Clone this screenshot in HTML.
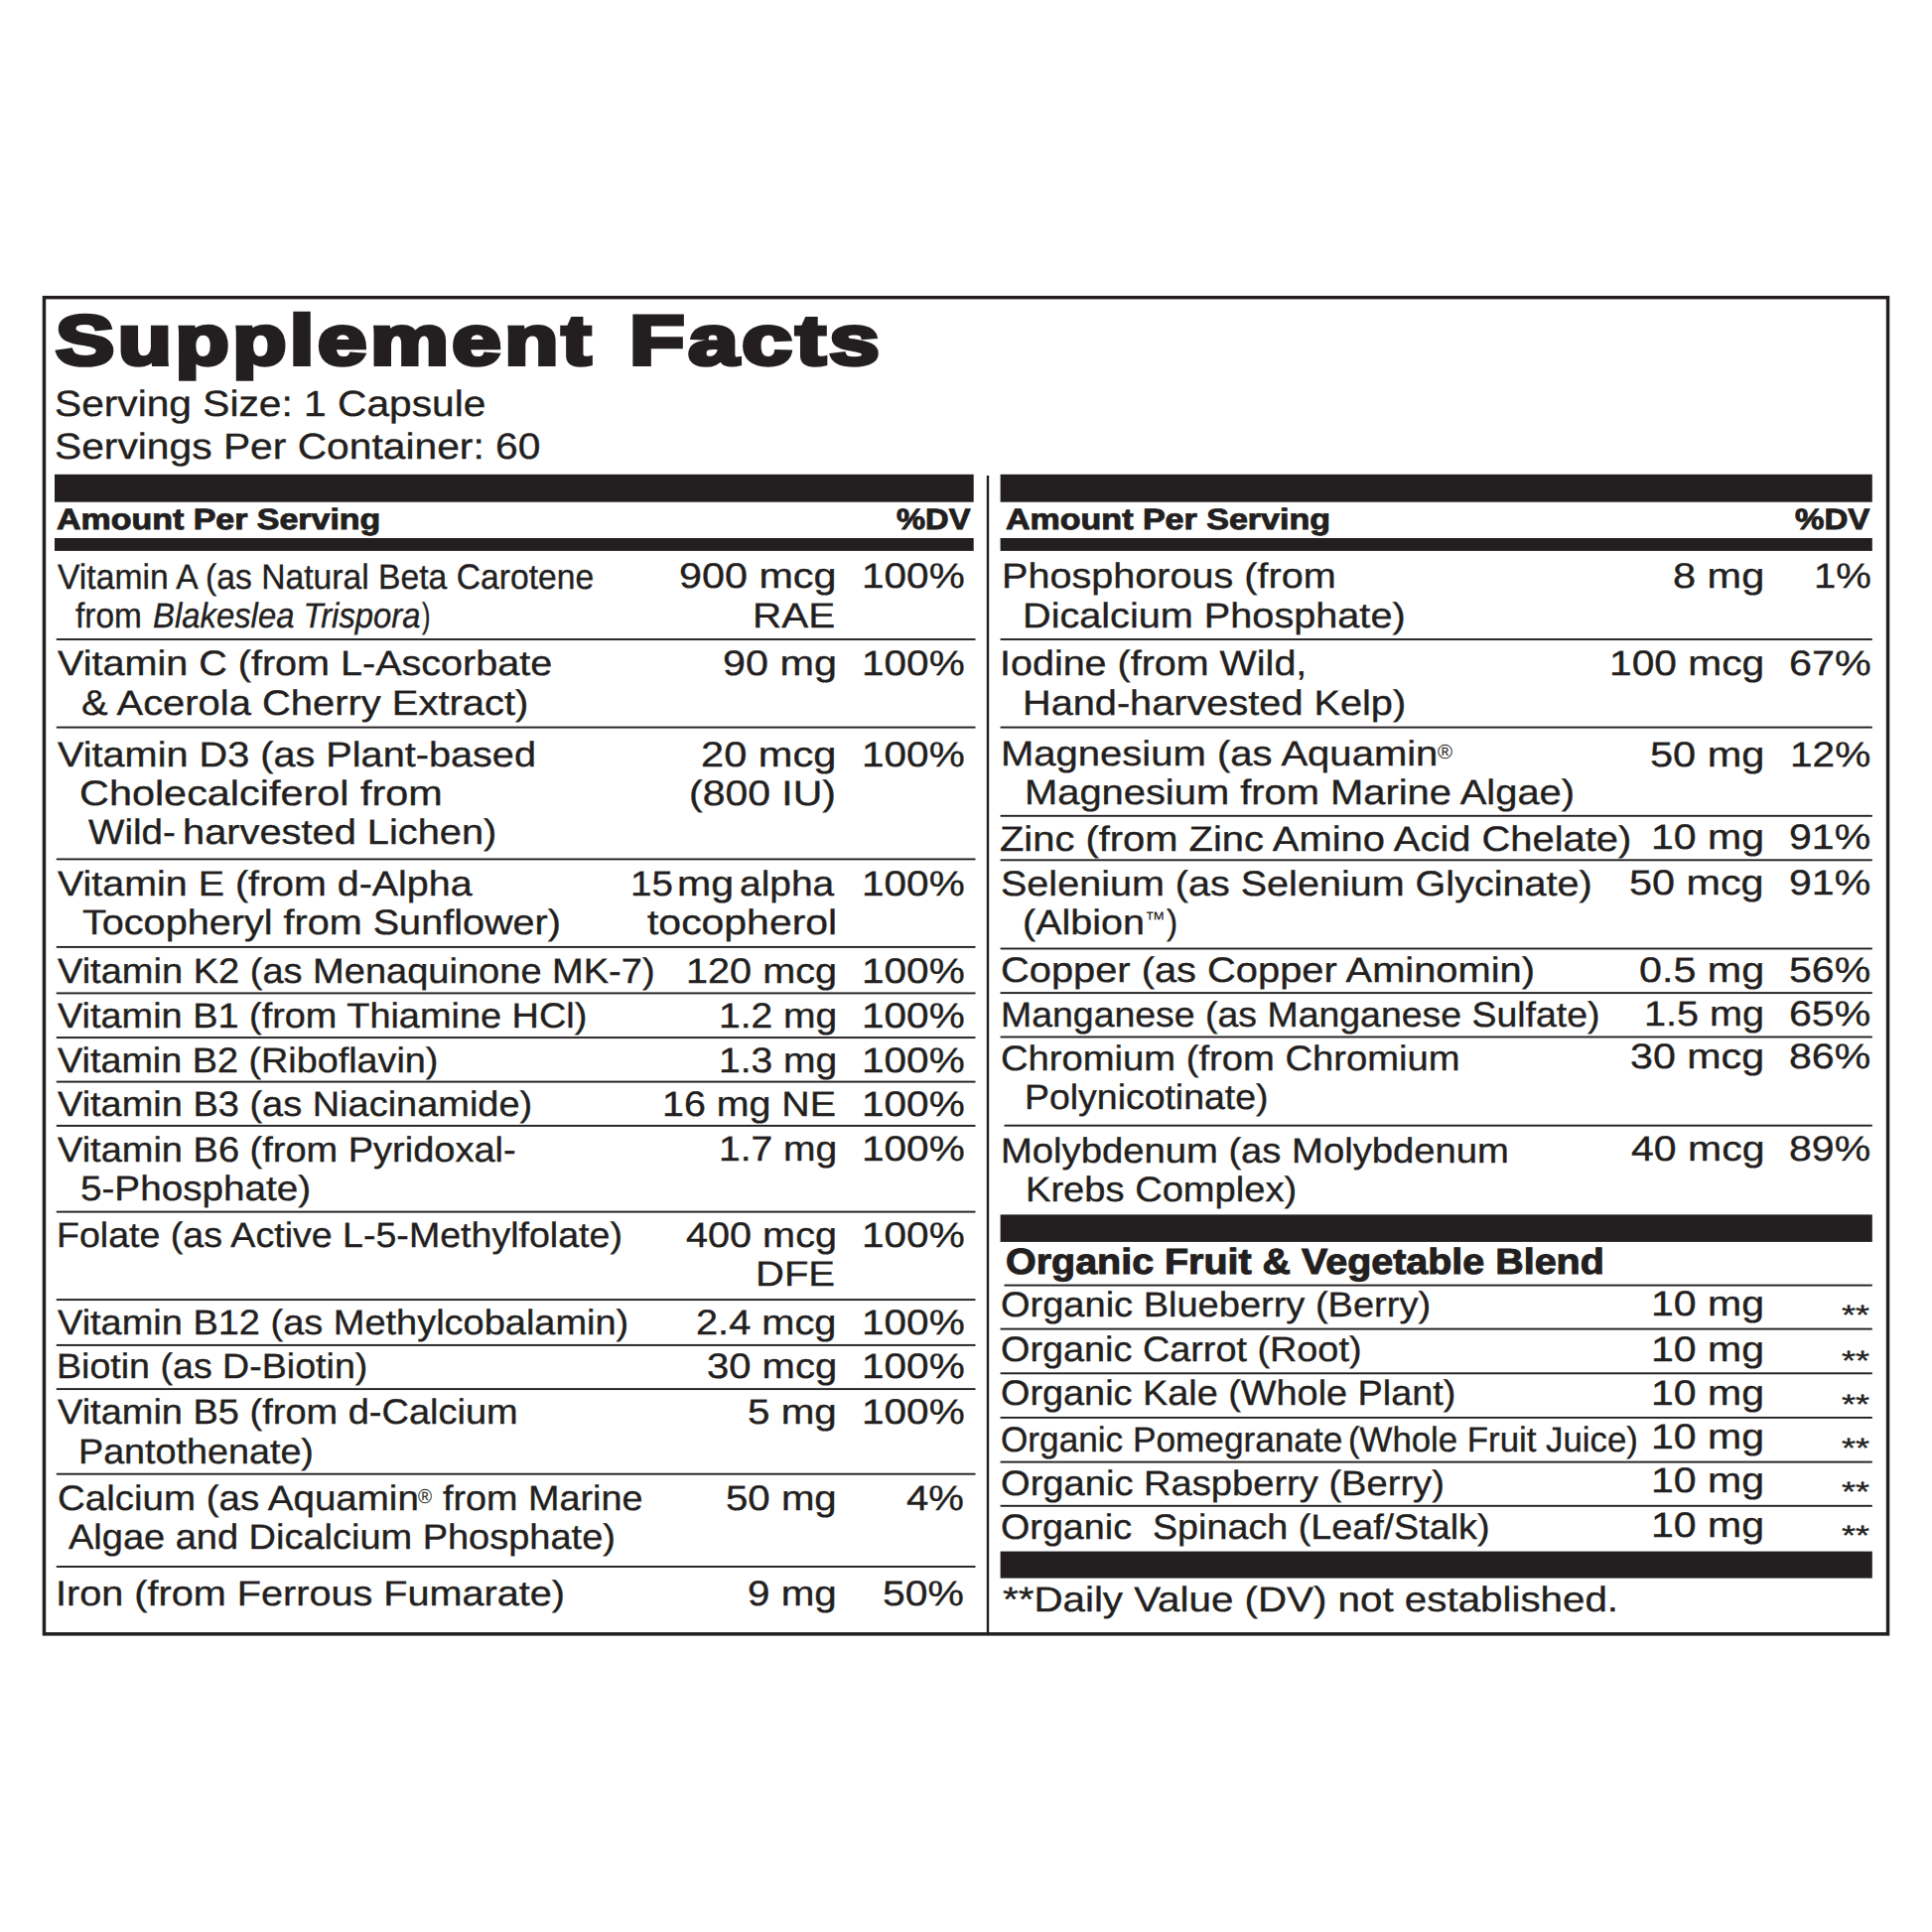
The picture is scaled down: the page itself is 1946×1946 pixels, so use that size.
<!DOCTYPE html>
<html lang="en"><head><meta charset="utf-8"><title>Supplement Facts</title>
<style>
html,body{margin:0;padding:0;background:#fff;}
body{width:1946px;height:1946px;position:relative;overflow:hidden;font-family:"Liberation Sans",sans-serif;color:#231f20;}
.t{position:absolute;white-space:pre;line-height:1;display:block;text-rendering:geometricPrecision;-webkit-text-stroke:0.35px #231f20;}
.g{position:absolute;left:0;top:0;display:block;}
</style></head><body>
<svg class="g" width="1946" height="1946" viewBox="0 0 1946 1946" fill="#231f20">
<rect x="44.45" y="299.65" width="1857.10" height="1346.20" fill="none" stroke="#231f20" stroke-width="3.5"/>
<rect x="55.00" y="477.80" width="925.70" height="27.90"/>
<rect x="55.00" y="542.00" width="925.70" height="12.90"/>
<rect x="1007.60" y="477.80" width="878.20" height="27.90"/>
<rect x="1007.60" y="542.00" width="878.20" height="12.90"/>
<rect x="1007.60" y="1223.40" width="878.20" height="27.50"/>
<rect x="1007.60" y="1562.60" width="878.20" height="27.00"/>
<rect x="993.80" y="479.00" width="2.40" height="1166.00"/>
<rect x="56.80" y="643.05" width="925.70" height="1.90"/>
<rect x="56.80" y="731.65" width="925.70" height="1.90"/>
<rect x="56.80" y="864.45" width="925.70" height="1.90"/>
<rect x="56.80" y="952.95" width="925.70" height="1.90"/>
<rect x="56.80" y="999.45" width="925.70" height="1.90"/>
<rect x="56.80" y="1044.15" width="925.70" height="1.90"/>
<rect x="56.80" y="1088.65" width="925.70" height="1.90"/>
<rect x="56.80" y="1132.95" width="925.70" height="1.90"/>
<rect x="56.80" y="1219.65" width="925.70" height="1.90"/>
<rect x="56.80" y="1308.15" width="925.70" height="1.90"/>
<rect x="56.80" y="1353.95" width="925.70" height="1.90"/>
<rect x="56.80" y="1398.15" width="925.70" height="1.90"/>
<rect x="56.80" y="1483.75" width="925.70" height="1.90"/>
<rect x="56.80" y="1577.05" width="925.70" height="1.90"/>
<rect x="1007.60" y="643.05" width="878.20" height="1.90"/>
<rect x="1007.60" y="731.65" width="878.20" height="1.90"/>
<rect x="1007.60" y="820.85" width="878.20" height="1.90"/>
<rect x="1007.60" y="865.35" width="878.20" height="1.90"/>
<rect x="1007.60" y="954.55" width="878.20" height="1.90"/>
<rect x="1007.60" y="999.15" width="878.20" height="1.90"/>
<rect x="1007.60" y="1043.55" width="878.20" height="1.90"/>
<rect x="1007.60" y="1337.65" width="878.20" height="1.90"/>
<rect x="1007.60" y="1382.35" width="878.20" height="1.90"/>
<rect x="1007.60" y="1426.95" width="878.20" height="1.90"/>
<rect x="1007.60" y="1471.65" width="878.20" height="1.90"/>
<rect x="1007.60" y="1515.85" width="878.20" height="1.90"/>
<rect x="1011.50" y="1132.75" width="874.30" height="1.90"/>
<rect x="1011.50" y="1293.65" width="874.30" height="1.90"/>
</svg>
<span class="t" style="left:56.48px;transform-origin:0 0;top:308.00px;font-size:70.5px;transform:scaleX(1.2584);font-weight:700;-webkit-text-stroke:4.2px #231f20;letter-spacing:2.8px;">Supplement</span>
<span class="t" style="left:633.64px;transform-origin:0 0;top:308.00px;font-size:70.5px;transform:scaleX(1.2894);font-weight:700;-webkit-text-stroke:4.2px #231f20;letter-spacing:2.8px;">Facts</span>
<span class="t" style="left:55.18px;transform-origin:0 0;top:389.00px;font-size:36.5px;transform:scaleX(1.1150);">Serving Size: 1 Capsule</span>
<span class="t" style="left:55.18px;transform-origin:0 0;top:432.00px;font-size:36.5px;transform:scaleX(1.1167);">Servings Per Container: 60</span>
<span class="t" style="left:56.90px;transform-origin:0 0;top:509.00px;font-size:29.5px;transform:scaleX(1.1506);font-weight:700;-webkit-text-stroke:0.9px #231f20;">Amount Per Serving</span>
<span class="t" style="left:903.40px;transform-origin:0 0;top:509.00px;font-size:29.5px;transform:scaleX(1.1075);font-weight:700;-webkit-text-stroke:0.9px #231f20;">%DV</span>
<span class="t" style="left:1013.20px;transform-origin:0 0;top:509.00px;font-size:29.5px;transform:scaleX(1.1530);font-weight:700;-webkit-text-stroke:0.9px #231f20;">Amount Per Serving</span>
<span class="t" style="left:1808.40px;transform-origin:0 0;top:509.00px;font-size:29.5px;transform:scaleX(1.1208);font-weight:700;-webkit-text-stroke:0.9px #231f20;">%DV</span>
<span class="t" style="left:58.10px;transform-origin:0 0;top:564.00px;font-size:35.4px;transform:scaleX(0.9512);">Vitamin A (as Natural Beta Carotene</span>
<span class="t" style="left:75.50px;transform-origin:0 0;top:603.00px;font-size:35.4px;transform:scaleX(0.9449);">from</span>
<span class="t" style="left:153.77px;transform-origin:0 0;top:603.00px;font-size:35.4px;transform:scaleX(0.9281);font-style:italic;">Blakeslea Trispora</span>
<span class="t" style="left:424.80px;transform-origin:0 0;top:603.00px;font-size:35.4px;transform:scaleX(0.7192);">)</span>
<span class="t" style="left:58.00px;transform-origin:0 0;top:651.00px;font-size:35.4px;transform:scaleX(1.1177);">Vitamin C (from L-Ascorbate</span>
<span class="t" style="left:81.57px;transform-origin:0 0;top:691.00px;font-size:35.4px;transform:scaleX(1.1279);">&amp; Acerola Cherry Extract)</span>
<span class="t" style="left:58.00px;transform-origin:0 0;top:743.00px;font-size:35.4px;transform:scaleX(1.1205);">Vitamin D3 (as Plant-based</span>
<span class="t" style="left:79.73px;transform-origin:0 0;top:782.00px;font-size:35.4px;transform:scaleX(1.1694);">Cholecalciferol from</span>
<span class="t" style="left:88.80px;transform-origin:0 0;top:821.00px;font-size:35.4px;transform:scaleX(1.0899);">Wild-</span>
<span class="t" style="left:183.75px;transform-origin:0 0;top:821.00px;font-size:35.4px;transform:scaleX(1.1245);">harvested Lichen)</span>
<span class="t" style="left:58.00px;transform-origin:0 0;top:873.00px;font-size:35.4px;transform:scaleX(1.1136);">Vitamin E (from d-Alpha</span>
<span class="t" style="left:82.70px;transform-origin:0 0;top:912.00px;font-size:35.4px;transform:scaleX(1.1189);">Tocopheryl from Sunflower)</span>
<span class="t" style="left:58.00px;transform-origin:0 0;top:961.00px;font-size:35.4px;transform:scaleX(1.0743);">Vitamin K2 (as Menaquinone MK-7)</span>
<span class="t" style="left:58.00px;transform-origin:0 0;top:1006.00px;font-size:35.4px;transform:scaleX(1.0704);">Vitamin B1 (from Thiamine HCl)</span>
<span class="t" style="left:57.80px;transform-origin:0 0;top:1051.00px;font-size:35.4px;transform:scaleX(1.0671);">Vitamin B2 (Riboflavin)</span>
<span class="t" style="left:58.00px;transform-origin:0 0;top:1095.00px;font-size:35.4px;transform:scaleX(1.0726);">Vitamin B3 (as Niacinamide)</span>
<span class="t" style="left:58.00px;transform-origin:0 0;top:1141.00px;font-size:35.4px;transform:scaleX(1.0734);">Vitamin B6 (from Pyridoxal-</span>
<span class="t" style="left:81.11px;transform-origin:0 0;top:1180.00px;font-size:35.4px;transform:scaleX(1.0920);">5-Phosphate)</span>
<span class="t" style="left:57.28px;transform-origin:0 0;top:1227.00px;font-size:35.4px;transform:scaleX(1.0613);">Folate (as Active L-5-Methylfolate)</span>
<span class="t" style="left:58.00px;transform-origin:0 0;top:1315.00px;font-size:35.4px;transform:scaleX(1.0725);">Vitamin B12 (as Methylcobalamin)</span>
<span class="t" style="left:57.28px;transform-origin:0 0;top:1359.00px;font-size:35.4px;transform:scaleX(1.0620);">Biotin (as D-Biotin)</span>
<span class="t" style="left:58.00px;transform-origin:0 0;top:1405.00px;font-size:35.4px;transform:scaleX(1.0733);">Vitamin B5 (from d-Calcium</span>
<span class="t" style="left:79.27px;transform-origin:0 0;top:1445.00px;font-size:35.4px;transform:scaleX(1.0655);">Pantothenate)</span>
<span class="t" style="left:57.61px;transform-origin:0 0;top:1492.00px;font-size:35.4px;transform:scaleX(1.0880);">Calcium (as Aquamin</span>
<span class="t" style="left:421.10px;transform-origin:0 0;top:1498.00px;font-size:20.5px;transform:scaleX(0.9330);-webkit-text-stroke:0px #231f20;">®</span>
<span class="t" style="left:446.00px;transform-origin:0 0;top:1492.00px;font-size:35.4px;transform:scaleX(1.0674);">from Marine</span>
<span class="t" style="left:69.00px;transform-origin:0 0;top:1531.00px;font-size:35.4px;transform:scaleX(1.0729);">Algae and Dicalcium Phosphate)</span>
<span class="t" style="left:56.34px;transform-origin:0 0;top:1588.00px;font-size:35.4px;transform:scaleX(1.1197);">Iron (from Ferrous Fumarate)</span>
<span class="t" style="left:684.43px;transform-origin:0 0;top:563.00px;font-size:35.4px;transform:scaleX(1.1671);">900 mcg</span>
<span class="t" style="left:757.91px;transform-origin:0 0;top:603.00px;font-size:35.4px;transform:scaleX(1.1428);">RAE</span>
<span class="t" style="left:727.93px;transform-origin:0 0;top:651.00px;font-size:35.4px;transform:scaleX(1.1683);">90 mg</span>
<span class="t" style="left:706.42px;transform-origin:0 0;top:743.00px;font-size:35.4px;transform:scaleX(1.1757);">20 mcg</span>
<span class="t" style="left:694.48px;transform-origin:0 0;top:782.00px;font-size:35.4px;transform:scaleX(1.1575);">(800 IU)</span>
<span class="t" style="left:634.82px;transform-origin:0 0;top:873.00px;font-size:35.4px;transform:scaleX(1.0901);">15</span>
<span class="t" style="left:681.68px;transform-origin:0 0;top:873.00px;font-size:35.4px;transform:scaleX(1.1607);">mg</span>
<span class="t" style="left:745.40px;transform-origin:0 0;top:873.00px;font-size:35.4px;transform:scaleX(1.1000);">alpha</span>
<span class="t" style="left:652.00px;transform-origin:0 0;top:912.00px;font-size:35.4px;transform:scaleX(1.1565);">tocopherol</span>
<span class="t" style="left:690.66px;transform-origin:0 0;top:961.00px;font-size:35.4px;transform:scaleX(1.1206);">120 mcg</span>
<span class="t" style="left:723.50px;transform-origin:0 0;top:1006.00px;font-size:35.4px;transform:scaleX(1.1022);">1.2 mg</span>
<span class="t" style="left:723.50px;transform-origin:0 0;top:1051.00px;font-size:35.4px;transform:scaleX(1.1022);">1.3 mg</span>
<span class="t" style="left:666.58px;transform-origin:0 0;top:1095.00px;font-size:35.4px;transform:scaleX(1.1121);">16 mg NE</span>
<span class="t" style="left:723.50px;transform-origin:0 0;top:1140.00px;font-size:35.4px;transform:scaleX(1.1022);">1.7 mg</span>
<span class="t" style="left:690.80px;transform-origin:0 0;top:1227.00px;font-size:35.4px;transform:scaleX(1.1196);">400 mcg</span>
<span class="t" style="left:761.04px;transform-origin:0 0;top:1266.00px;font-size:35.4px;transform:scaleX(1.1306);">DFE</span>
<span class="t" style="left:701.38px;transform-origin:0 0;top:1315.00px;font-size:35.4px;transform:scaleX(1.1233);">2.4 mcg</span>
<span class="t" style="left:711.67px;transform-origin:0 0;top:1359.00px;font-size:35.4px;transform:scaleX(1.1298);">30 mcg</span>
<span class="t" style="left:753.06px;transform-origin:0 0;top:1405.00px;font-size:35.4px;transform:scaleX(1.1407);">5 mg</span>
<span class="t" style="left:731.06px;transform-origin:0 0;top:1492.00px;font-size:35.4px;transform:scaleX(1.1359);">50 mg</span>
<span class="t" style="left:753.06px;transform-origin:0 0;top:1588.00px;font-size:35.4px;transform:scaleX(1.1407);">9 mg</span>
<span class="t" style="left:867.61px;transform-origin:0 0;top:563.00px;font-size:35.4px;transform:scaleX(1.1458);">100%</span>
<span class="t" style="left:867.61px;transform-origin:0 0;top:651.00px;font-size:35.4px;transform:scaleX(1.1458);">100%</span>
<span class="t" style="left:867.61px;transform-origin:0 0;top:743.00px;font-size:35.4px;transform:scaleX(1.1458);">100%</span>
<span class="t" style="left:867.61px;transform-origin:0 0;top:873.00px;font-size:35.4px;transform:scaleX(1.1458);">100%</span>
<span class="t" style="left:867.61px;transform-origin:0 0;top:961.00px;font-size:35.4px;transform:scaleX(1.1458);">100%</span>
<span class="t" style="left:867.61px;transform-origin:0 0;top:1006.00px;font-size:35.4px;transform:scaleX(1.1458);">100%</span>
<span class="t" style="left:867.61px;transform-origin:0 0;top:1051.00px;font-size:35.4px;transform:scaleX(1.1458);">100%</span>
<span class="t" style="left:867.61px;transform-origin:0 0;top:1095.00px;font-size:35.4px;transform:scaleX(1.1458);">100%</span>
<span class="t" style="left:867.61px;transform-origin:0 0;top:1140.00px;font-size:35.4px;transform:scaleX(1.1458);">100%</span>
<span class="t" style="left:867.61px;transform-origin:0 0;top:1227.00px;font-size:35.4px;transform:scaleX(1.1458);">100%</span>
<span class="t" style="left:867.61px;transform-origin:0 0;top:1315.00px;font-size:35.4px;transform:scaleX(1.1458);">100%</span>
<span class="t" style="left:867.61px;transform-origin:0 0;top:1359.00px;font-size:35.4px;transform:scaleX(1.1458);">100%</span>
<span class="t" style="left:867.61px;transform-origin:0 0;top:1405.00px;font-size:35.4px;transform:scaleX(1.1458);">100%</span>
<span class="t" style="left:913.40px;transform-origin:0 0;top:1492.00px;font-size:35.4px;transform:scaleX(1.1324);">4%</span>
<span class="t" style="left:889.44px;transform-origin:0 0;top:1588.00px;font-size:35.4px;transform:scaleX(1.1560);">50%</span>
<span class="t" style="left:1008.76px;transform-origin:0 0;top:563.00px;font-size:35.4px;transform:scaleX(1.1187);">Phosphorous (from</span>
<span class="t" style="left:1030.06px;transform-origin:0 0;top:603.00px;font-size:35.4px;transform:scaleX(1.1203);">Dicalcium Phosphate)</span>
<span class="t" style="left:1007.35px;transform-origin:0 0;top:651.00px;font-size:35.4px;transform:scaleX(1.1154);">Iodine (from Wild,</span>
<span class="t" style="left:1029.56px;transform-origin:0 0;top:691.00px;font-size:35.4px;transform:scaleX(1.1217);">Hand-harvested Kelp)</span>
<span class="t" style="left:1007.74px;transform-origin:0 0;top:742.00px;font-size:35.4px;transform:scaleX(1.1306);">Magnesium (as Aquamin</span>
<span class="t" style="left:1447.80px;transform-origin:0 0;top:748.00px;font-size:20.5px;transform:scaleX(0.9930);-webkit-text-stroke:0px #231f20;">®</span>
<span class="t" style="left:1031.75px;transform-origin:0 0;top:781.00px;font-size:35.4px;transform:scaleX(1.1267);">Magnesium from Marine Algae)</span>
<span class="t" style="left:1006.97px;transform-origin:0 0;top:828.00px;font-size:35.4px;transform:scaleX(1.1273);">Zinc (from Zinc Amino Acid Chelate)</span>
<span class="t" style="left:1008.28px;transform-origin:0 0;top:873.00px;font-size:35.4px;transform:scaleX(1.1173);">Selenium (as Selenium Glycinate)</span>
<span class="t" style="left:1029.57px;transform-origin:0 0;top:912.00px;font-size:35.4px;transform:scaleX(1.1156);">(Albion</span>
<span class="t" style="left:1152.71px;transform-origin:0 0;top:916.00px;font-size:21px;transform:scaleX(0.9944);-webkit-text-stroke:0px #231f20;">™</span>
<span class="t" style="left:1174.70px;transform-origin:0 0;top:912.00px;font-size:35.4px;transform:scaleX(0.9489);">)</span>
<span class="t" style="left:1008.27px;transform-origin:0 0;top:960.00px;font-size:35.4px;transform:scaleX(1.1254);">Copper (as Copper Aminomin)</span>
<span class="t" style="left:1008.08px;transform-origin:0 0;top:1005.00px;font-size:35.4px;transform:scaleX(1.0578);">Manganese (as Manganese Sulfate)</span>
<span class="t" style="left:1008.32px;transform-origin:0 0;top:1049.00px;font-size:35.4px;transform:scaleX(1.0793);">Chromium (from Chromium</span>
<span class="t" style="left:1031.88px;transform-origin:0 0;top:1088.00px;font-size:35.4px;transform:scaleX(1.0576);">Polynicotinate)</span>
<span class="t" style="left:1008.04px;transform-origin:0 0;top:1142.00px;font-size:35.4px;transform:scaleX(1.0797);">Molybdenum (as Molybdenum</span>
<span class="t" style="left:1033.15px;transform-origin:0 0;top:1181.00px;font-size:35.4px;transform:scaleX(1.0767);">Krebs Complex)</span>
<span class="t" style="left:1012.72px;transform-origin:0 0;top:1253.00px;font-size:36.4px;transform:scaleX(1.0840);font-weight:700;-webkit-text-stroke:1.0px #231f20;">Organic Fruit &amp; Vegetable Blend</span>
<span class="t" style="left:1008.33px;transform-origin:0 0;top:1297.00px;font-size:35.4px;transform:scaleX(1.0742);">Organic Blueberry (Berry)</span>
<span class="t" style="left:1008.33px;transform-origin:0 0;top:1342.00px;font-size:35.4px;transform:scaleX(1.0683);">Organic Carrot (Root)</span>
<span class="t" style="left:1008.33px;transform-origin:0 0;top:1386.00px;font-size:35.4px;transform:scaleX(1.0692);">Organic Kale (Whole Plant)</span>
<span class="t" style="left:1008.41px;transform-origin:0 0;top:1433.00px;font-size:35.4px;transform:scaleX(0.9943);">Organic Pomegranate</span>
<span class="t" style="left:1357.53px;transform-origin:0 0;top:1433.00px;font-size:35.4px;transform:scaleX(0.9831);">(Whole Fruit Juice)</span>
<span class="t" style="left:1008.32px;transform-origin:0 0;top:1477.00px;font-size:35.4px;transform:scaleX(1.0769);">Organic Raspberry (Berry)</span>
<span class="t" style="left:1008.33px;transform-origin:0 0;top:1521.00px;font-size:35.4px;transform:scaleX(1.0653);">Organic  Spinach (Leaf/Stalk)</span>
<span class="t" style="left:1010.20px;transform-origin:0 0;top:1594.00px;font-size:35.4px;transform:scaleX(1.1393);">**Daily Value (DV) not established.</span>
<span class="t" style="left:1684.83px;transform-origin:0 0;top:563.00px;font-size:35.4px;transform:scaleX(1.1723);">8 mg</span>
<span class="t" style="left:1826.64px;transform-origin:0 0;top:563.00px;font-size:35.4px;transform:scaleX(1.1317);">1%</span>
<span class="t" style="left:1620.90px;transform-origin:0 0;top:651.00px;font-size:35.4px;transform:scaleX(1.1502);">100 mcg</span>
<span class="t" style="left:1801.83px;transform-origin:0 0;top:651.00px;font-size:35.4px;transform:scaleX(1.1676);">67%</span>
<span class="t" style="left:1661.63px;transform-origin:0 0;top:743.00px;font-size:35.4px;transform:scaleX(1.1736);">50 mg</span>
<span class="t" style="left:1803.31px;transform-origin:0 0;top:743.00px;font-size:35.4px;transform:scaleX(1.1466);">12%</span>
<span class="t" style="left:1662.98px;transform-origin:0 0;top:826.00px;font-size:35.4px;transform:scaleX(1.1595);">10 mg</span>
<span class="t" style="left:1802.34px;transform-origin:0 0;top:826.00px;font-size:35.4px;transform:scaleX(1.1603);">91%</span>
<span class="t" style="left:1641.43px;transform-origin:0 0;top:872.00px;font-size:35.4px;transform:scaleX(1.1686);">50 mcg</span>
<span class="t" style="left:1802.34px;transform-origin:0 0;top:872.00px;font-size:35.4px;transform:scaleX(1.1603);">91%</span>
<span class="t" style="left:1650.93px;transform-origin:0 0;top:960.00px;font-size:35.4px;transform:scaleX(1.1656);">0.5 mg</span>
<span class="t" style="left:1802.34px;transform-origin:0 0;top:960.00px;font-size:35.4px;transform:scaleX(1.1603);">56%</span>
<span class="t" style="left:1655.86px;transform-origin:0 0;top:1004.00px;font-size:35.4px;transform:scaleX(1.1194);">1.5 mg</span>
<span class="t" style="left:1802.34px;transform-origin:0 0;top:1004.00px;font-size:35.4px;transform:scaleX(1.1603);">65%</span>
<span class="t" style="left:1641.94px;transform-origin:0 0;top:1047.00px;font-size:35.4px;transform:scaleX(1.1642);">30 mcg</span>
<span class="t" style="left:1802.34px;transform-origin:0 0;top:1047.00px;font-size:35.4px;transform:scaleX(1.1603);">86%</span>
<span class="t" style="left:1642.60px;transform-origin:0 0;top:1140.00px;font-size:35.4px;transform:scaleX(1.1584);">40 mcg</span>
<span class="t" style="left:1802.34px;transform-origin:0 0;top:1140.00px;font-size:35.4px;transform:scaleX(1.1603);">89%</span>
<span class="t" style="left:1662.98px;transform-origin:0 0;top:1296.00px;font-size:35.4px;transform:scaleX(1.1595);">10 mg</span>
<span class="t" style="left:1662.98px;transform-origin:0 0;top:1342.00px;font-size:35.4px;transform:scaleX(1.1595);">10 mg</span>
<span class="t" style="left:1662.98px;transform-origin:0 0;top:1386.00px;font-size:35.4px;transform:scaleX(1.1595);">10 mg</span>
<span class="t" style="left:1662.98px;transform-origin:0 0;top:1430.00px;font-size:35.4px;transform:scaleX(1.1595);">10 mg</span>
<span class="t" style="left:1662.98px;transform-origin:0 0;top:1474.00px;font-size:35.4px;transform:scaleX(1.1595);">10 mg</span>
<span class="t" style="left:1662.98px;transform-origin:0 0;top:1519.00px;font-size:35.4px;transform:scaleX(1.1595);">10 mg</span>
<span class="t" style="left:1855.20px;transform-origin:0 0;top:1311.00px;font-size:28px;transform:scaleX(1.2876);">**</span>
<span class="t" style="left:1855.20px;transform-origin:0 0;top:1357.00px;font-size:28px;transform:scaleX(1.2876);">**</span>
<span class="t" style="left:1855.20px;transform-origin:0 0;top:1401.00px;font-size:28px;transform:scaleX(1.2876);">**</span>
<span class="t" style="left:1855.20px;transform-origin:0 0;top:1445.00px;font-size:28px;transform:scaleX(1.2876);">**</span>
<span class="t" style="left:1855.20px;transform-origin:0 0;top:1489.00px;font-size:28px;transform:scaleX(1.2876);">**</span>
<span class="t" style="left:1855.20px;transform-origin:0 0;top:1533.00px;font-size:28px;transform:scaleX(1.2876);">**</span>
</body></html>
